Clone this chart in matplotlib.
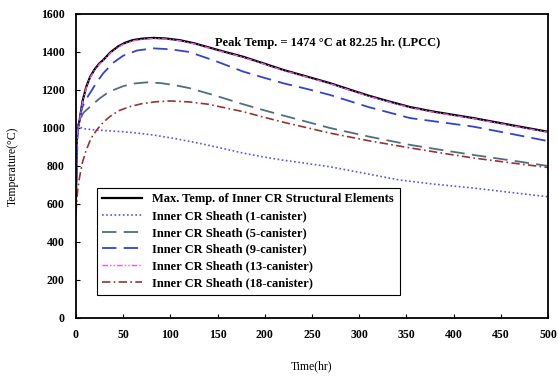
import matplotlib
matplotlib.use('Agg')
import matplotlib.pyplot as plt

# values
t_max = [0, 1, 2, 4, 7, 11, 15, 20, 25, 29, 37, 45, 52, 60, 70, 82, 95, 110, 125, 140, 158,
         177, 198, 220, 245, 269, 290, 310, 332, 354, 380, 421, 460, 500]
T_max = [600, 950, 1000, 1042, 1140, 1217, 1268, 1310, 1340, 1358, 1400, 1430, 1448, 1462, 1470,
         1474, 1471, 1462, 1446, 1425, 1400, 1375, 1341, 1305, 1270, 1236, 1202, 1170, 1139, 1110,
         1085, 1052, 1016, 980]

t_c1 = [0, 1, 3, 10, 20, 35, 50, 65, 82, 105, 130, 155, 177, 198, 220, 245, 269, 305, 343, 380,
        421, 460, 500]
T_c1 = [600, 1015, 1005, 995, 990, 985, 980, 973, 963, 944, 920, 893, 868, 848, 830, 813, 796,
        762, 726, 704, 684, 661, 638]

t_c5 = [0, 1, 4, 8, 15, 25, 35, 50, 62, 75, 90, 105, 120, 148, 177, 198, 220, 245, 269, 310,
        354, 390, 421, 460, 500]
T_c5 = [600, 950, 1042, 1080, 1112, 1155, 1190, 1220, 1234, 1240, 1236, 1225, 1210, 1170, 1125,
        1095, 1065, 1032, 1000, 955, 911, 882, 858, 830, 800]

t_c9 = [0, 2, 6, 10, 15, 22, 29, 40, 50, 65, 82, 100, 120, 148, 177, 198, 220, 245, 269, 310,
        354, 390, 421, 460, 500]
T_c9 = [600, 1000, 1100, 1145, 1184, 1240, 1288, 1345, 1380, 1408, 1419, 1414, 1400, 1352, 1297,
        1266, 1235, 1205, 1174, 1110, 1052, 1028, 1007, 970, 931]

t_c13 = t_max
T_c13 = [580, 945, 996, 1038, 1136, 1212, 1264, 1306, 1336, 1354, 1396, 1426, 1444, 1458, 1466,
         1471, 1468, 1459, 1443, 1422, 1397, 1372, 1338, 1302, 1267, 1233, 1199, 1167, 1136, 1107,
         1082, 1049, 1013, 977]

t_c18 = [0, 1, 2, 4, 7, 11, 16, 22, 29, 36, 45, 57, 70, 85, 100, 120, 140, 158, 177, 198, 220,
         245, 269, 310, 354, 390, 421, 460, 500]
T_c18 = [550, 620, 680, 744, 820, 884, 945, 989, 1030, 1060, 1090, 1112, 1128, 1138, 1142, 1137,
         1125, 1106, 1086, 1058, 1030, 1001, 973, 933, 895, 866, 842, 817, 792]

labels = ['Max. Temp. of Inner CR Structural Elements',
          'Inner CR Sheath (1-canister)',
          'Inner CR Sheath (5-canister)',
          'Inner CR Sheath (9-canister)',
          'Inner CR Sheath (13-canister)',
          'Inner CR Sheath (18-canister)']

plt.rcParams['font.family'] = 'Liberation Serif'
plt.rcParams['font.weight'] = 'bold'

fig = plt.figure(figsize=(5.58, 3.77), dpi=100)
ax = fig.add_axes([0.136, 0.1565, 0.846, 0.8065])

ax.plot(t_max, T_max, color='black', lw=1.6, label=labels[0])
ax.plot(t_c1, T_c1, color='#5555ee', lw=1.2, ls=(0, (1, 1.5)), label=labels[1])
ax.plot(t_c5, T_c5, color='#4f6f80', lw=1.3, ls=(0, (8, 4)), label=labels[2])
ax.plot(t_c9, T_c9, color='#3344cc', lw=1.3, ls=(0, (8, 4)), label=labels[3])
ax.plot(t_c13, T_c13, color='#ee55ee', lw=1.0, ls=(0, (4, 1.5, 1, 1.5, 1, 1.5)), label=labels[4])
ax.plot(t_c18, T_c18, color='#993333', lw=1.2, ls=(0, (5, 2, 1, 2)), label=labels[5])

ax.set_xlim(0, 500)
ax.set_ylim(0, 1600)
ax.set_xticks(range(0, 501, 50))
ax.set_yticks(range(0, 1601, 200))
ax.tick_params(direction='in', length=3, labelsize=8.5, pad=8)
for s in ax.spines.values():
    s.set_linewidth(1.3)

ax.set_xlabel('Time(hr)', fontsize=8.5, labelpad=14)
ax.set_ylabel('Temperature(°C)', fontsize=8.5, labelpad=16)

ax.text(0.295, 0.905, 'Peak Temp. = 1474 °C at 82.25 hr. (LPCC)', transform=ax.transAxes,
        fontsize=9, ha='left', va='center')

leg = ax.legend(loc='upper left', bbox_to_anchor=(0.044, 0.428), borderaxespad=0,
                fontsize=9, handlelength=3.2, fancybox=False, framealpha=1,
                edgecolor='black', labelspacing=0.38, borderpad=0.45)
leg.get_frame().set_linewidth(0.8)

fig.savefig('out.png', dpi=100)
